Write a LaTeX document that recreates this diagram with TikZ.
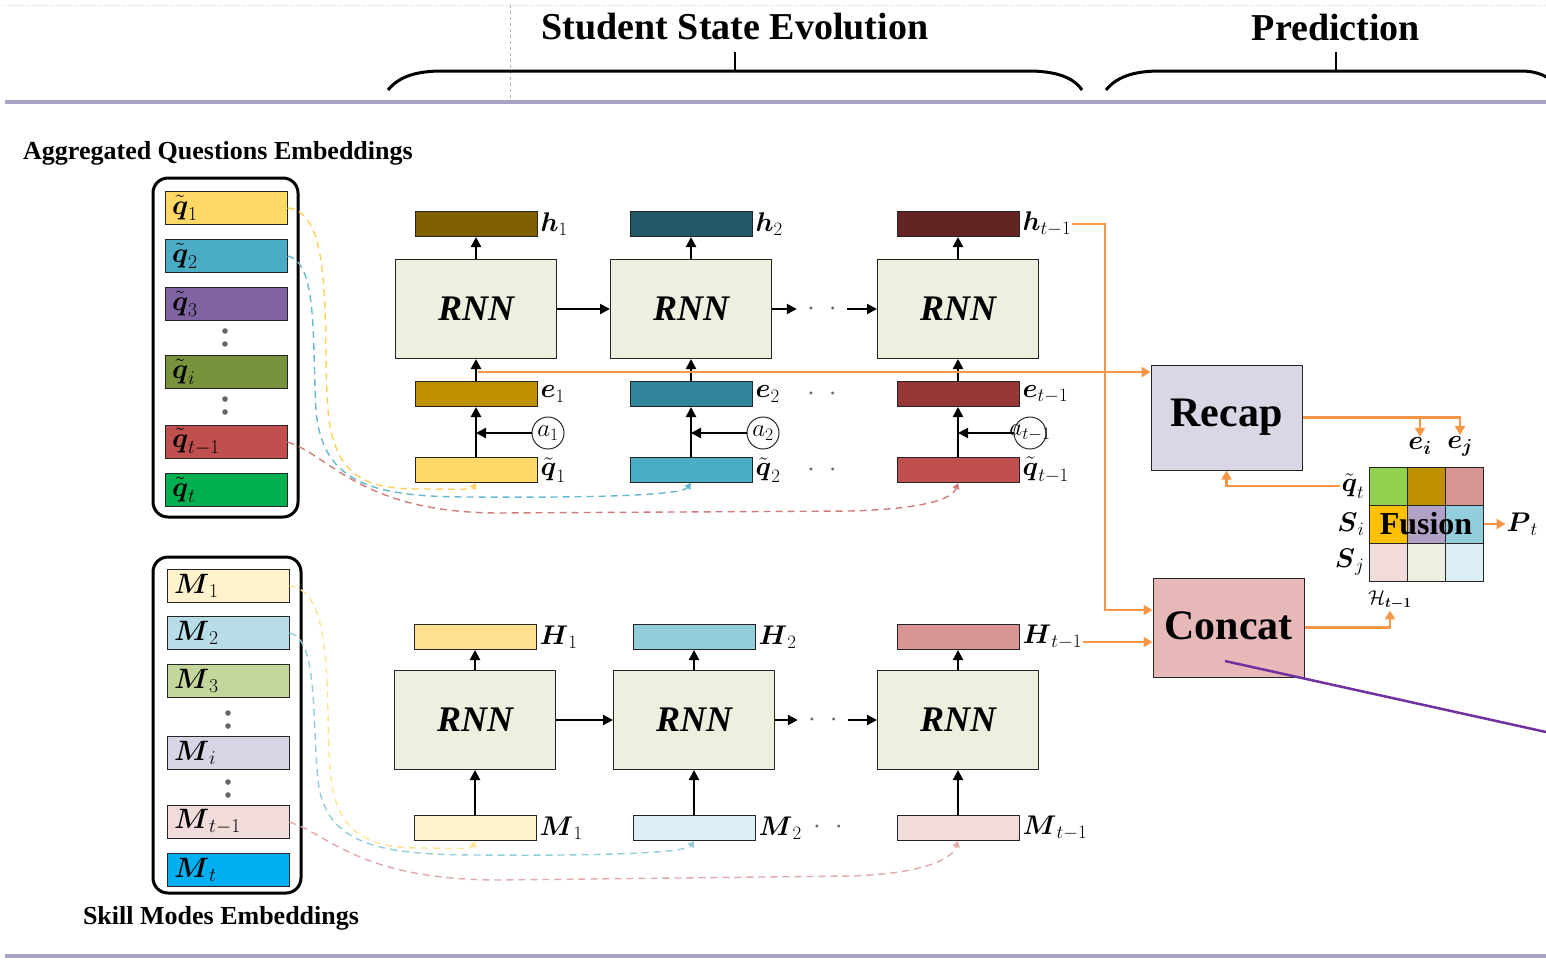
\RequirePackage{fix-cm}
\documentclass[tikz,border=0pt]{standalone}
\usepackage{amsmath}
\usepackage{fontspec}
\setmainfont{Liberation Serif}
\usetikzlibrary{arrows.meta, positioning, calc}
\definecolor{rnnfill}{HTML}{EBF1DE}
\definecolor{hone}{HTML}{7F6000}
\definecolor{eone}{HTML}{BF9000}
\definecolor{xone}{HTML}{FFD966}
\definecolor{htwo}{HTML}{215968}
\definecolor{etwo}{HTML}{31849B}
\definecolor{xtwo}{HTML}{4BACC6}
\definecolor{hthree}{HTML}{632523}
\definecolor{ethree}{HTML}{953735}
\definecolor{xthree}{HTML}{C0504D}
\definecolor{qpurple}{HTML}{8064A2}
\definecolor{qolive}{HTML}{77933C}
\definecolor{qgreen}{HTML}{00B050}
\definecolor{Hone}{HTML}{FFE08F}
\definecolor{Htwo}{HTML}{92CDDC}
\definecolor{Hthree}{HTML}{D99594}
\definecolor{Mone}{HTML}{FFF2CC}
\definecolor{Mtwo}{HTML}{B7DEE8}
\definecolor{Mtwolight}{HTML}{DBEEF4}
\definecolor{Mthree}{HTML}{C3D69B}
\definecolor{Mlav}{HTML}{D9D3E6}
\definecolor{Mpink}{HTML}{F2DCDB}
\definecolor{Mblue}{HTML}{00B0F0}
\definecolor{recapfill}{HTML}{DAD6E6}
\definecolor{concatfill}{HTML}{E6B9B8}
\definecolor{orangeline}{HTML}{F79646}
\definecolor{rulecol}{HTML}{ABA3C4}
\definecolor{violetline}{HTML}{7030A0}
\definecolor{gA}{HTML}{92D050}
\definecolor{gB}{HTML}{BF9000}
\definecolor{gC}{HTML}{D99594}
\definecolor{gD}{HTML}{FFC000}
\definecolor{gE}{HTML}{B2A1C7}
\definecolor{gF}{HTML}{92CDDC}
\definecolor{gG}{HTML}{F2DCDB}
\definecolor{gH}{HTML}{EBF1DE}
\definecolor{gI}{HTML}{DBEEF4}
\newcommand\fsz[1]{\fontsize{#1}{#1}\selectfont}

\tikzset{
  blk/.style={-{Triangle[width=10pt,length=10pt]}, line width=2.2pt, black},
  org/.style={-{Triangle[width=10pt,length=9pt]}, line width=2.2pt, orangeline},
  dsh/.style={dash pattern=on 7pt off 5pt, line width=1.4pt, -{Triangle[width=7pt,length=6pt]}},
  bar/.style={draw=black!85, line width=1pt, minimum width=122pt, minimum height=25pt, inner sep=0pt},
  rnnbox/.style={draw=black!85, fill=rnnfill, line width=1pt, minimum width=161pt, minimum height=99pt, font=\fsz{36}\bfseries\itshape},
  embed/.style={draw=black!85, line width=1pt, minimum width=122pt, minimum height=33pt, text width=108pt, inner xsep=7pt, inner ysep=0pt, align=left, font=\fsz{28}},
  lbl/.style={font=\fsz{27}, inner sep=1pt},
  bigword/.style={font=\fsz{42}\bfseries},
  cell/.style={draw=black!85, line width=1pt, minimum size=38pt, inner sep=0pt},
  dotrow/.style={font=\fsz{28}, text=black!60, minimum width=50pt, inner sep=0pt},
  circ/.style={circle, draw=black!85, line width=1pt, minimum size=32pt, inner sep=0pt, font=\fsz{25}}
}

\begin{document}
\begin{tikzpicture}[x=1pt, y=-1pt]
    \useasboundingbox (0,0) rectangle (1546,959);

    % Header rules and braces
    \draw[black!20, dotted, line width=1pt] (5,5) -- (1546,5);
    \draw[black!30, dashed, line width=0.6pt] (510,5) -- (510,100);
    \draw[rulecol, line width=4pt] (5,102) -- (1546,102);
    \draw[rulecol, line width=4pt] (5,956) -- (1546,956);
    \draw[line width=3pt] (388,90) .. controls (400,75) and (420,71) .. (442,71) -- (1028,71) .. controls (1050,71) and (1072,75) .. (1082,90);
    \draw[line width=2pt] (735,71) -- (735,52);
    \draw[line width=3pt] (1106,90) .. controls (1118,75) and (1138,71) .. (1160,71) -- (1520,71) .. controls (1538,71) and (1550,76) .. (1560,90);
    \draw[line width=2pt] (1336,71) -- (1336,52);
    \node[font=\fsz{38}\bfseries] (tsse) at (735,27) {Student State Evolution};
    \node[font=\fsz{38}\bfseries] (tpred) at (1336,27) {Prediction};

    % Aggregated questions embeddings
    \node[font=\fsz{26}\bfseries] (tagg) at (218,153) {Aggregated Questions Embeddings};
    \draw[line width=3pt, rounded corners=15pt] (153,178) rectangle (298,517);
    \foreach \n/\y/\c/\s in {1/208/xone/1, 2/256/xtwo/2, 3/304/qpurple/3, 4/372/qolive/i, 5/442/xthree/{t-1}, 6/490/qgreen/t}
        \node[embed, fill=\c] (q\n) at (226,\y) {$\tilde{\boldsymbol q}_{\s}$};
    \foreach \y in {331,344,399,412}
        \fill[black!60] (225,\y) circle (2.8pt);

    % Skill modes embeddings
    \node[font=\fsz{26}\bfseries] (tskill) at (221,918) {Skill Modes Embeddings};
    \draw[line width=3pt, rounded corners=15pt] (153,557) rectangle (301,893);
    \foreach \n/\y/\c/\s in {1/586/Mone/1, 2/633/Mtwo/2, 3/681/Mthree/3, 4/753/Mlav/i, 5/822/Mpink/{t-1}, 6/870/Mblue/t}
        \node[embed, fill=\c] (sk\n) at (228,\y) {$\boldsymbol{M}_{\s}$};
    \foreach \y in {713,726,782,795}
        \fill[black!60] (228,\y) circle (2.8pt);

    % Upper RNN chain
    \foreach \i/\x/\hc/\ec/\qc/\s in {1/476/hone/eone/xone/1, 2/691/htwo/etwo/xtwo/2, 3/958/hthree/ethree/xthree/{t-1}} {
        \node[bar, fill=\hc] (h\i) at (\x,224) {};
        \node[rnnbox] (r\i) at (\x,309) {RNN};
        \node[bar, fill=\ec] (e\i) at (\x,394) {};
        \node[bar, fill=\qc] (x\i) at (\x,470) {};
        \node[lbl, right=2pt of h\i] (hl\i) {$\boldsymbol{h}_{\s}$};
        \node[lbl, right=2pt of e\i] (el\i) {$\boldsymbol{e}_{\s}$};
        \node[lbl, right=2pt of x\i] (xl\i) {$\tilde{\boldsymbol q}_{\s}$};
        \node[circ] (a\i) at (\x+72,433) {\makebox[0pt]{$a_{\s}$}};
        \draw[blk] (x\i) -- (e\i);
        \draw[blk] (e\i) -- (r\i);
        \draw[blk] (r\i) -- (h\i);
        \draw[blk] (a\i.west) -- (a\i.west -| x\i);
    }
    \draw[blk] (r1) -- (r2);
    \node[dotrow] (dtop) at (822,309) {$\cdot\enspace\cdot$};
    \draw[blk] (r2) -- (dtop);
    \draw[blk] (dtop) -- (r3);
    \node[dotrow] (dte) at (822,394) {$\cdot\enspace\cdot$};
    \node[dotrow] (dtx) at (822,470) {$\cdot\enspace\cdot$};

    % Lower RNN chain
    \foreach \i/\x/\Hc/\Mc/\s in {1/475/Hone/Mone/1, 2/694/Htwo/Mtwolight/2, 3/958/Hthree/Mpink/{t-1}} {
        \node[bar, fill=\Hc] (H\i) at (\x,637) {};
        \node[rnnbox] (R\i) at (\x,720) {RNN};
        \node[bar, fill=\Mc] (mb\i) at (\x,828) {};
        \node[lbl, right=2pt of H\i] (Hl\i) {$\boldsymbol{H}_{\s}$};
        \node[lbl, right=2pt of mb\i] (ml\i) {$\boldsymbol{M}_{\s}$};
        \draw[blk] (mb\i) -- (R\i);
        \draw[blk] (R\i) -- (H\i);
    }
    \draw[blk] (R1) -- (R2);
    \node[dotrow] (dbot) at (823,720) {$\cdot\enspace\cdot$};
    \draw[blk] (R2) -- (dbot);
    \draw[blk] (dbot) -- (R3);
    \node[dotrow] (dbm) at (828,827) {$\cdot\enspace\cdot$};

    % Dashed lookups
    \draw[dsh, xone!90!orange] (q1.east) .. controls (335,212) and (322,330) .. (328,410) .. controls (334,480) and (370,489) .. (420,489) .. controls (455,489) and (472,490) .. (x1.south);
    \draw[dsh, xtwo!85] (q2.east) .. controls (318,262) and (312,340) .. (316,410) .. controls (322,482) and (370,497) .. (470,497) .. controls (600,498) and (682,495) .. (x2.south);
    \draw[dsh, xthree!75] (q5.east) .. controls (330,455) and (360,513) .. (500,513) -- (850,511) .. controls (920,509) and (952,500) .. (x3.south);
    \draw[dsh, xone!70] (sk1.east) .. controls (335,590) and (325,700) .. (330,770) .. controls (335,835) and (370,848) .. (420,848) .. controls (455,848) and (471,850) .. (mb1.south);
    \draw[dsh, Htwo] (sk2.east) .. controls (318,638) and (312,720) .. (318,780) .. controls (325,845) and (380,855) .. (480,855) .. controls (600,856) and (686,853) .. (mb2.south);
    \draw[dsh, Hthree!80] (sk5.east) .. controls (330,835) and (360,880) .. (500,880) -- (850,876) .. controls (920,874) and (952,860) .. (mb3.south);

    % Recap and Concat
    \node[draw=black!85, line width=1pt, fill=recapfill, minimum width=151pt, minimum height=105pt, bigword] (recap) at (1226.5,417.5) {Recap};
    \node[draw=black!85, line width=1pt, fill=concatfill, minimum width=151pt, minimum height=99pt, bigword, text depth=4pt] (concat) at (1228.5,627.5) {Concat};
    \coordinate (eo) at (478,372);
    \draw[org] (eo) -- (eo -| recap.west);
    \coordinate (hbend) at (1105,610);
    \draw[org] (hl3.east) -| (hbend) -- (hbend -| concat.west);
    \coordinate (hin) at ($(Hl3.east)+(0,5)$);
    \draw[org] (hin) -- (hin -| concat.west);

    % Fusion grid
    \foreach \r/\c/\col in {1/1/gA, 1/2/gB, 1/3/gC, 2/1/gD, 2/2/gE, 2/3/gF, 3/1/gG, 3/2/gH, 3/3/gI}
        \node[cell, fill=\col] (f\r\c) at ({1350+38*\c},{448+38*\r}) {};
    \node[font=\fsz{32}\bfseries, inner sep=0pt] (fusion) at (f22) {Fusion};
    \node[lbl, left=3pt of f11] (qtl) {$\tilde{\boldsymbol q}_t$};
    \node[lbl, left=3pt of f21] (sil) {$\boldsymbol{S}_i$};
    \node[lbl, left=3pt of f31] (sjl) {$\boldsymbol{S}_j$};
    \node[lbl] (ei) at (1420,446) {$\boldsymbol{e_i}$};
    \node[lbl] (ej) at (1460,446) {$\boldsymbol{e_j}$};
    \node[lbl, right=22pt of f23] (pt) {$\boldsymbol{P}_t$};
    \node[lbl, font=\fsz{20}] (hs) at (1390,600) {$\mathcal{H}_{\boldsymbol{t-1}}$};
    \draw[org] (recap.east) -| (ej.north);
    \draw[org] (ei.north |- recap.east) -- (ei.north);
    \draw[org] (qtl.west) -| (recap.south);
    \draw[org] (f23.east) -- (pt.west);
    \draw[org] (concat.east) -| (hs.south);

    % Pointer
    \coordinate (pa) at (1225,661);
    \coordinate (pb) at (1546,732);
    \draw[violetline, line width=2.5pt] (pa) -- (pb);
\end{tikzpicture}
\end{document}
